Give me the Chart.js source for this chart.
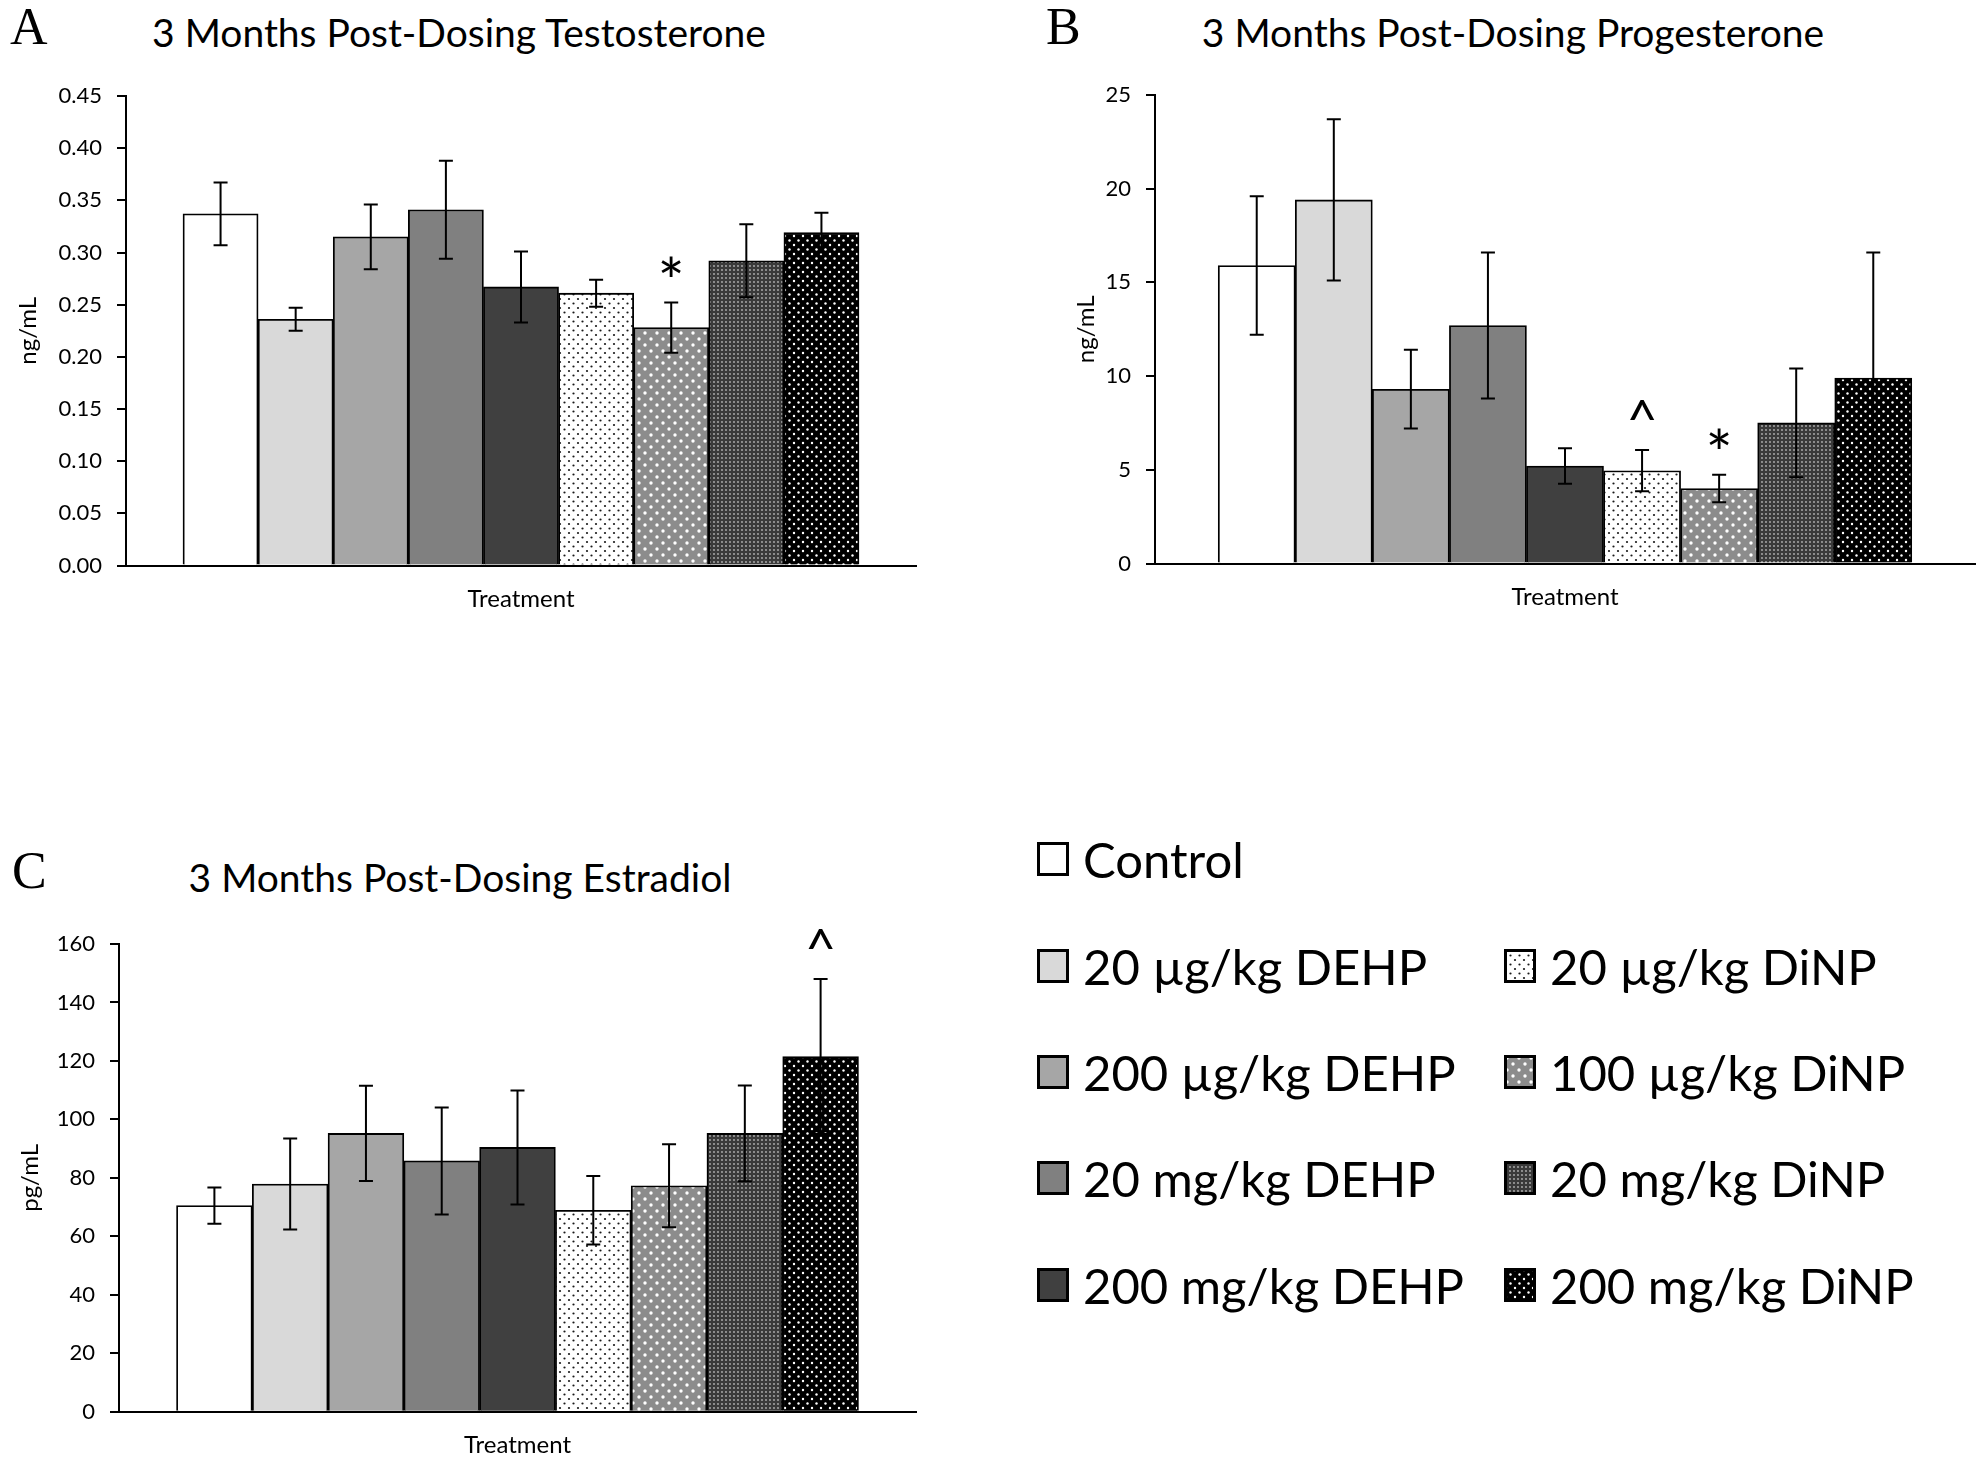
<!DOCTYPE html>
<html lang="en">
<head>
<meta charset="UTF-8">
<title>3 Months Post-Dosing Hormones</title>
<script src="https://cdn.jsdelivr.net/npm/chart.js@4.4.1/dist/chart.umd.min.js"></script>
<style>
    html, body { margin: 0; padding: 0; background: #fff; }
    body { width: 1980px; height: 1462px; position: relative; overflow: hidden; font-family: Lato, "Open Sans", sans-serif; color: #000; }
    .box { position: absolute; }
    .letter { position: absolute; font-family: "Liberation Serif", serif; font-size: 52px; line-height: 52px; color: #000; }
    .title { position: absolute; font-size: 39px; line-height: 39px; white-space: nowrap; transform: translateX(-50%); color: #000; }
    .legend-item { position: absolute; display: flex; align-items: center; height: 48px; }
    .legend-item canvas { width: 32px; height: 34px; }
    .legend-item span { font-size: 49px; line-height: 48px; margin-left: 14px; white-space: nowrap; }
</style>
</head>
<body>
    <div class="letter" style="left:10px; top:1px;">A</div>
    <div class="title" style="left:459px; top:13px;">3 Months Post-Dosing Testosterone</div>
    <div class="box" style="left:0; top:0; width:940px; height:640px;"><canvas id="chartA"></canvas></div>

    <div class="letter" style="left:1046px; top:1px;">B</div>
    <div class="title" style="left:1513px; top:13px;">3 Months Post-Dosing Progesterone</div>
    <div class="box" style="left:1040px; top:0; width:940px; height:640px;"><canvas id="chartB"></canvas></div>

    <div class="letter" style="left:12px; top:845px;">C</div>
    <div class="title" style="left:460px; top:858px;">3 Months Post-Dosing Estradiol</div>
    <div class="box" style="left:0; top:830px; width:940px; height:632px;"><canvas id="chartC"></canvas></div>

    <div id="legend"></div>

<script>
// treatment groups, same order in every panel
const treatments = ['Control', '20 µg/kg DEHP', '200 µg/kg DEHP', '20 mg/kg DEHP', '200 mg/kg DEHP',
                    '20 µg/kg DiNP', '100 µg/kg DiNP', '20 mg/kg DiNP', '200 mg/kg DiNP'];

// A - testosterone (ng/mL), mean and SEM
const testoMean = [0.337, 0.236, 0.315, 0.341, 0.267, 0.261, 0.228, 0.292, 0.319];
const testoErr  = [0.030, 0.011, 0.031, 0.047, 0.034, 0.013, 0.024, 0.035, 0.019];
const testoMarks = ['', '', '', '', '', '', '*', '', ''];

// B - progesterone (ng/mL)
const progMean = [15.9, 19.4, 9.3, 12.7, 5.2, 4.95, 4.0, 7.5, 9.9];
const progErr  = [3.7, 4.3, 2.1, 3.9, 0.95, 1.1, 0.73, 2.9, 6.7];
const progMarks = ['', '', '', '', '', '^', '*', '', ''];

// C - estradiol (pg/mL)
const estMean = [70.5, 77.9, 95.2, 85.8, 90.4, 68.9, 77.3, 95.2, 121.5];
const estErr  = [6.2, 15.6, 16.3, 18.3, 19.5, 11.7, 14.2, 16.4, 26.5];
const estMarks = ['', '', '', '', '', '', '', '', '^'];

const xLabel = 'Treatment';

// fills: solid greys for DEHP, dotted patterns for DiNP
function dotPattern(bg, dot, size, r, pts) {
    const c = document.createElement('canvas');
    c.width = size; c.height = size;
    const g = c.getContext('2d');
    g.fillStyle = bg;
    g.fillRect(0, 0, size, size);
    g.fillStyle = dot;
    pts.forEach(p => {
        g.beginPath();
        g.arc(p[0], p[1], r, 0, Math.PI * 2);
        g.fill();
    });
    return g.createPattern(c, 'repeat');
}

const fills = [
    '#ffffff', '#d9d9d9', '#a6a6a6', '#808080', '#404040',
    dotPattern('#ffffff', '#1a1a1a', 9, 1.1, [[2, 2], [6.5, 6.5]]),
    dotPattern('#8c8c8c', '#ffffff', 12, 1.7, [[3, 3], [9, 9]]),
    dotPattern('#3a3a3a', '#b4b4b4', 4, 0.9, [[2, 2]]),
    dotPattern('#000000', '#ffffff', 9, 1.2, [[2, 2], [6.5, 6.5]])
];

// error bars and significance marks drawn through the y scale
const errorBars = {
    id: 'errorBars',
    afterDatasetsDraw(chart, args, opts) {
        const ctx = chart.ctx;
        const y = chart.scales.y;
        const meta = chart.getDatasetMeta(0);
        const data = chart.data.datasets[0].data;
        ctx.save();
        ctx.strokeStyle = '#000';
        ctx.lineWidth = 2;
        meta.data.forEach((bar, i) => {
            const v = data[i].y, e = opts.err[i];
            const top = y.getPixelForValue(v + e);
            const bot = y.getPixelForValue(v - e);
            ctx.beginPath();
            ctx.moveTo(bar.x, top); ctx.lineTo(bar.x, bot);
            ctx.moveTo(bar.x - 7, top); ctx.lineTo(bar.x + 7, top);
            ctx.moveTo(bar.x - 7, bot); ctx.lineTo(bar.x + 7, bot);
            ctx.stroke();

            const mark = opts.marks[i];
            if (mark) {
                ctx.font = (mark === '*' ? '64px' : '54px') + ' Lato';
                ctx.fillStyle = '#000';
                ctx.textAlign = 'center';
                ctx.textBaseline = 'alphabetic';
                const m = ctx.measureText(mark);
                const cy = top - (mark === '*' ? 36 : 40);
                ctx.fillText(mark, bar.x, cy + (m.actualBoundingBoxAscent - m.actualBoundingBoxDescent) / 2);
            }
        });
        ctx.restore();
    }
};

Chart.defaults.font.family = 'Lato';
Chart.defaults.color = '#000';

function makeChart(id, mean, err, marks, yOpts, box) {
    const gap = box.gap;
    return new Chart(document.getElementById(id), {
        type: 'bar',
        data: {
            datasets: [{
                label: 'mean',
                data: mean.map((v, i) => ({ x: i, y: v })),
                backgroundColor: fills,
                borderColor: '#000',
                borderWidth: 1.8,
                barPercentage: 1,
                categoryPercentage: 1
            }]
        },
        options: {
            responsive: true,
            maintainAspectRatio: false,
            animation: false,
            layout: { padding: { top: box.top, right: box.right, left: 0, bottom: 0 } },
            plugins: {
                legend: { display: false },
                tooltip: { enabled: false },
                errorBars: { err: err, marks: marks }
            },
            scales: {
                x: {
                    type: 'linear',
                    min: -0.5 - gap,
                    max: treatments.length - 0.5 + gap,
                    offset: false,
                    grid: { display: false, drawTicks: false },
                    border: { display: true, color: '#000', width: 2 },
                    afterBuildTicks: s => { s.ticks = [{ value: (treatments.length - 1) / 2 }]; },
                    afterFit: s => { s.height = box.xHeight; },
                    ticks: { callback: () => xLabel, padding: 19, maxRotation: 0, font: { size: 24 }, color: '#000' }
                },
                y: {
                    min: 0,
                    max: yOpts.max,
                    afterFit: s => { s.width = box.yWidth; },
                    ticks: {
                        stepSize: yOpts.step,
                        padding: 15,
                        font: { size: 22 },
                        color: '#000',
                        callback: v => v.toFixed(yOpts.dec)
                    },
                    grid: { drawOnChartArea: false, drawTicks: true, tickLength: 9, color: '#000', lineWidth: 2 },
                    border: { color: '#000', width: 2 },
                    title: { display: true, text: yOpts.title, font: { size: 24 }, color: '#000', padding: { top: box.titlePad } }
                }
            }
        },
        plugins: [errorBars]
    });
}

makeChart('chartA', testoMean, testoErr, testoMarks,
    { max: 0.45, step: 0.05, dec: 2, title: 'ng/mL' },
    { top: 96, right: 24, xHeight: 74.5, yWidth: 126, titlePad: 14, gap: 0.759 });

makeChart('chartB', progMean, progErr, progMarks,
    { max: 25, step: 5, dec: 0, title: 'ng/mL' },
    { top: 95, right: 5, xHeight: 76.5, yWidth: 115, titlePad: 32, gap: 0.82 });

makeChart('chartC', estMean, estErr, estMarks,
    { max: 160, step: 20, dec: 0, title: 'pg/mL' },
    { top: 114, right: 24, xHeight: 50.3, yWidth: 119, titlePad: 16, gap: 0.759 });

// legend: two columns, Control alone on the first row
const legendCols = [1037, 1504];
const legendRows = [859, 966, 1072, 1178, 1285];
const legendSlots = [[0, 0], [0, 1], [0, 2], [0, 3], [0, 4], [1, 1], [1, 2], [1, 3], [1, 4]];
const legend = document.getElementById('legend');
treatments.forEach((name, i) => {
    const [col, row] = legendSlots[i];
    const item = document.createElement('div');
    item.className = 'legend-item';
    item.style.left = legendCols[col] + 'px';
    item.style.top = (legendRows[row] - 24) + 'px';
    const sw = document.createElement('canvas');
    sw.width = 32; sw.height = 34;
    const g = sw.getContext('2d');
    g.fillStyle = fills[i];
    g.fillRect(0, 0, 32, 34);
    g.strokeStyle = '#000';
    g.lineWidth = 3;
    g.strokeRect(1.5, 1.5, 29, 31);
    const label = document.createElement('span');
    label.textContent = name;
    item.appendChild(sw);
    item.appendChild(label);
    legend.appendChild(item);
});
</script>
</body>
</html>
